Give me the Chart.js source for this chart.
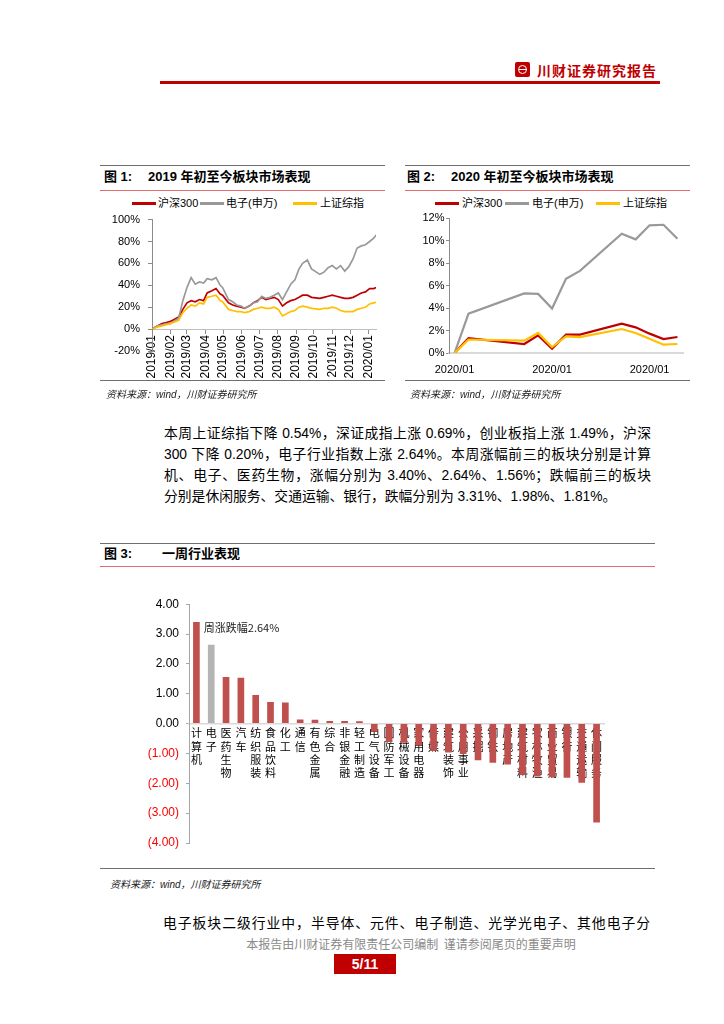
<!DOCTYPE html>
<html lang="zh-CN">
<head>
<meta charset="utf-8">
<title>川财证券研究报告</title>
<script src="https://cdn.jsdelivr.net/npm/chart.js@4.4.1/dist/chart.umd.min.js"></script>
<style>
  html, body { margin: 0; padding: 0; background: #fff; }
  #page { position: relative; width: 724px; height: 1024px; overflow: hidden;
          font-family: "Liberation Sans", "Noto Sans CJK SC", sans-serif; color: #000; }
  #page div, #page canvas { position: absolute; }
  .rule { height: 1px; background: #6f6f6f; }
  .redrule { height: 1px; background: #e36c6c; }
  .title { font-weight: bold; font-size: 13px; line-height: 16px; white-space: nowrap; }
  .lg { font-size: 11px; line-height: 14px; top: 196px; white-space: nowrap; }
  .sw { top: 202px; width: 24px; height: 2.5px; }
  .src { font-size: 10px; font-style: italic; color: #222; white-space: nowrap; }
  .para { font-size: 13.8px; line-height: 21px; text-align: justify; text-align-last: justify; }
</style>
</head>
<body>
<div id="page">
  <!-- 页眉 -->
  <div style="left:515px;top:62px;width:15px;height:15px;background:#c00000;border-radius:2px;"></div>
  <div style="left:518px;top:65px;width:7px;height:7px;border:1.5px solid #fff;border-radius:50%;"></div>
  <div style="left:519px;top:68.5px;width:8px;height:1.5px;background:#fff;"></div>
  <div style="left:537px;top:61px;font-size:14px;font-weight:bold;color:#c00000;letter-spacing:1px;line-height:18px;font-family:'Noto Sans CJK SC';">川财证券研究报告</div>
  <div style="left:160px;top:81px;width:500px;height:2.5px;background:#c00000;"></div>

  <!-- 图1 -->
  <div class="rule" style="left:100px;top:165px;width:285px;"></div>
  <div class="title" style="left:104px;top:169px;">图 1:</div>
  <div class="title" style="left:148px;top:169px;">2019 年初至今板块市场表现</div>
  <div class="redrule" style="left:100px;top:190px;width:285px;"></div>
  <div class="sw" style="left:132px;background:#c00000"></div><div class="lg" style="left:158px;">沪深300</div>
  <div class="sw" style="left:200px;background:#999999"></div><div class="lg" style="left:226px;">电子(申万)</div>
  <div class="sw" style="left:293px;background:#ffc000"></div><div class="lg" style="left:320px;">上证综指</div>
  <canvas id="chart1" width="285" height="178" style="left:100px;top:205px;width:285px;height:178px;"></canvas>
  <div class="rule" style="left:100px;top:380px;width:285px;"></div>
  <div class="src" style="left:106px;top:386px;">资料来源：wind，川财证券研究所</div>

  <!-- 图2 -->
  <div class="rule" style="left:405px;top:165px;width:285px;"></div>
  <div class="title" style="left:407px;top:169px;">图 2:</div>
  <div class="title" style="left:451px;top:169px;">2020 年初至今板块市场表现</div>
  <div class="redrule" style="left:405px;top:190px;width:285px;"></div>
  <div class="sw" style="left:435px;background:#c00000"></div><div class="lg" style="left:462px;">沪深300</div>
  <div class="sw" style="left:505px;background:#999999"></div><div class="lg" style="left:532px;">电子(申万)</div>
  <div class="sw" style="left:596px;background:#ffc000"></div><div class="lg" style="left:623px;">上证综指</div>
  <canvas id="chart2" width="290" height="172" style="left:400px;top:208px;width:290px;height:172px;"></canvas>
  <div class="rule" style="left:405px;top:380px;width:285px;"></div>
  <div class="src" style="left:410px;top:386px;">资料来源：wind，川财证券研究所</div>

  <!-- 正文 -->
  <div class="para" style="left:164px;top:423px;width:487px;">本周上证综指下降 0.54%，深证成指上涨 0.69%，创业板指上涨 1.49%，沪深</div>
  <div class="para" style="left:164px;top:444px;width:487px;">300 下降 0.20%，电子行业指数上涨 2.64%。本周涨幅前三的板块分别是计算</div>
  <div class="para" style="left:164px;top:465px;width:487px;">机、电子、医药生物，涨幅分别为 3.40%、2.64%、1.56%；跌幅前三的板块</div>
  <div class="para" style="left:164px;top:486px;width:487px;text-align:left;text-align-last:left;">分别是休闲服务、交通运输、银行，跌幅分别为 3.31%、1.98%、1.81%。</div>

  <!-- 图3 -->
  <div class="rule" style="left:100px;top:543px;width:555px;"></div>
  <div class="title" style="left:104px;top:546px;">图 3:</div>
  <div class="title" style="left:162px;top:546px;">一周行业表现</div>
  <div class="redrule" style="left:100px;top:566px;width:555px;"></div>
  <canvas id="chart3" width="555" height="270" style="left:100px;top:590px;width:555px;height:270px;"></canvas>
  <div class="rule" style="left:100px;top:868px;width:555px;"></div>
  <div class="src" style="left:110px;top:876px;">资料来源：wind，川财证券研究所</div>

  <div class="para" style="left:163px;top:913px;width:487px;">电子板块二级行业中，半导体、元件、电子制造、光学光电子、其他电子分</div>

  <!-- 页脚 -->
  <div style="left:243px;top:936px;width:336px;font-size:12px;line-height:16px;color:#8a8a8a;text-align:center;white-space:nowrap;font-family:'Noto Sans CJK SC';">本报告由川财证券有限责任公司编制&nbsp;&nbsp;谨请参阅尾页的重要声明</div>
  <div style="left:334px;top:954px;width:62px;height:20px;background:#c00000;color:#fff;font-weight:bold;font-size:14px;line-height:20px;text-align:center;">5/11</div>
</div>

<script>
// ===== 数据 =====
// 图1：2019年初至今（周度取点，累计涨跌幅 %）
const dates2019 = ['2019-01-02','2019-01-04','2019-01-11','2019-01-18','2019-01-25','2019-02-01','2019-02-15','2019-02-22',
  '2019-03-01','2019-03-08','2019-03-15','2019-03-22','2019-03-29','2019-04-04','2019-04-12','2019-04-19','2019-04-26','2019-04-30',
  '2019-05-10','2019-05-17','2019-05-24','2019-05-31','2019-06-06','2019-06-14','2019-06-21','2019-06-28',
  '2019-07-05','2019-07-12','2019-07-19','2019-07-26','2019-08-02','2019-08-09','2019-08-16','2019-08-23','2019-08-30',
  '2019-09-06','2019-09-12','2019-09-20','2019-09-27','2019-10-11','2019-10-18','2019-10-25',
  '2019-11-01','2019-11-08','2019-11-15','2019-11-22','2019-11-29','2019-12-06','2019-12-13','2019-12-20','2019-12-27',
  '2020-01-03','2020-01-10','2020-01-14'];
const hs300_2019 = [0, 1, 3, 5, 6, 7, 11, 18,
  24, 26, 25, 27, 26, 33, 35, 37, 32, 31,
  24, 22, 21, 20, 19, 21, 24, 26,
  29, 27, 28, 29, 27, 21, 24, 26, 27,
  29, 31, 31, 29, 28, 29, 30,
  31, 30, 29, 28, 28, 29, 31, 33, 34,
  37, 37, 38];
const dianzi_2019 = [0, 1, 3, 4, 5, 5, 10, 26,
  38, 47, 41, 43, 42, 46, 45, 47, 40, 38,
  27, 25, 22, 21, 19, 21, 24, 25,
  30, 28, 29, 31, 33, 27, 34, 41, 45,
  55, 60, 63, 55, 50, 52, 56,
  58, 55, 58, 53, 57, 64, 74, 76, 77,
  80, 83, 86];
const szzz_2019 = [0, 0.5, 2, 3, 4, 5, 8, 15,
  19, 22, 21, 24, 23, 29, 30, 31, 26, 25,
  18, 17, 16, 16, 15, 16, 18, 19,
  20, 19, 19, 20, 18, 12, 14, 16, 17,
  20, 21, 20, 19, 18, 19, 19,
  20, 19, 17, 16, 16, 16, 18, 19, 20,
  23, 24, 24.5];
const monthLabels2019 = ['2019/01','2019/02','2019/03','2019/04','2019/05','2019/06','2019/07',
  '2019/08','2019/09','2019/10','2019/11','2019/12','2020/01'];

// 图2：2020年初至今（日度，累计涨跌幅 %）
const dates2020 = ['2020-01-01','2020-01-02','2020-01-06','2020-01-07','2020-01-08','2020-01-09',
  '2020-01-10','2020-01-13','2020-01-14','2020-01-15','2020-01-16','2020-01-17'];
const hs300_2020  = [0, 1.33, 0.80, 1.57, 0.39, 1.63, 1.63, 2.60, 2.28, 1.72, 1.24, 1.42];
const dianzi_2020 = [0, 3.50, 5.30, 5.25, 3.95, 6.60, 7.30, 10.60, 10.10, 11.35, 11.40, 10.15];
const szzz_2020   = [0, 1.20, 1.10, 1.78, 0.53, 1.48, 1.42, 2.13, 1.78, 1.27, 0.74, 0.80];
const tickDates2020 = ['2020-01-01','2020-01-08','2020-01-15'];

// 图3：一周行业表现（%）
const industries = ['计算机','电子','医药生物','汽车','纺织服装','食品饮料','化工','通信','有色金属','综合',
  '非银金融','轻工制造','电气设备','国防军工','机械设备','家用电器','传媒','建筑装饰','公用事业','采掘',
  '钢铁','房地产','建筑材料','农林牧渔','商业贸易','银行','交通运输','休闲服务'];
const weekChange = [3.40, 2.64, 1.56, 1.54, 0.96, 0.72, 0.71, 0.14, 0.13, 0.09,
  0.09, 0.08, -0.27, -0.62, -0.64, -0.73, -0.92, -0.97, -1.02, -1.23,
  -1.31, -1.37, -1.72, -1.77, -1.80, -1.81, -1.98, -3.31];

// ===== 样式 =====
const RED = '#c00000', GRAY = '#999999', YELLOW = '#ffc000';
const AXIS = '#8c8c8c';
const NUM_FONT = '"Liberation Sans", "Noto Sans CJK SC", sans-serif';
const CJK_FONT = '"Noto Sans CJK SC", sans-serif';
Chart.defaults.font.family = NUM_FONT;
Chart.defaults.color = '#000';

// ===== 工具 =====
const DAY = 86400000;
function dayIndex(dateStr, baseStr) {
  return Math.round((Date.parse(dateStr) - Date.parse(baseStr)) / DAY);
}
function toPoints(dates, values, base) {
  return dates.map((d, i) => ({ x: dayIndex(d, base), y: values[i] }));
}
function lineSet(label, data, color, order, width) {
  return { label, data, borderColor: color, backgroundColor: color, borderWidth: width,
           pointRadius: 0, tension: 0, order };
}

// ===== 图1 =====
const base19 = '2019-01-01';
new Chart(document.getElementById('chart1'), {
  type: 'line',
  data: {
    datasets: [
      lineSet('沪深300', toPoints(dates2019, hs300_2019, base19), RED, 2, 1.7),
      lineSet('电子(申万)', toPoints(dates2019, dianzi_2019, base19), GRAY, 1, 1.7),
      lineSet('上证综指', toPoints(dates2019, szzz_2019, base19), YELLOW, 0, 1.7)
    ]
  },
  options: {
    responsive: false,
    animation: false,
    layout: { padding: { top: 10, right: 5, bottom: 32, left: 0 } },
    plugins: { legend: { display: false }, tooltip: { enabled: false } },
    scales: {
      x: {
        type: 'linear',
        position: { y: 0 },
        z: 1,
        min: 0,
        max: dayIndex(dates2019[dates2019.length - 1], base19),
        afterBuildTicks: s => {
          s.ticks = monthLabels2019.map(m => ({ value: dayIndex(m.replace('/', '-') + '-01', base19) }));
        },
        afterFit: s => { s.height = 0; },
        ticks: { autoSkip: false, minRotation: 90, maxRotation: 90, padding: 2,
                 font: { size: 12 }, callback: (v, i) => monthLabels2019[i] },
        grid: { drawOnChartArea: false, tickLength: 4, color: AXIS },
        border: { color: '#bfbfbf' }
      },
      y: {
        min: -20, max: 100,
        afterFit: s => { s.width = 52; },
        ticks: { stepSize: 20, padding: 8, font: { size: 11 }, callback: v => v + '%' },
        grid: { drawOnChartArea: false, tickLength: 4, color: AXIS },
        border: { color: AXIS }
      }
    }
  }
});

// ===== 图2 =====
const base20 = '2020-01-01';
new Chart(document.getElementById('chart2'), {
  type: 'line',
  data: {
    datasets: [
      lineSet('沪深300', toPoints(dates2020, hs300_2020, base20), RED, 2, 2.2),
      lineSet('电子(申万)', toPoints(dates2020, dianzi_2020, base20), GRAY, 1, 2.2),
      lineSet('上证综指', toPoints(dates2020, szzz_2020, base20), YELLOW, 0, 2.2)
    ]
  },
  options: {
    responsive: false,
    animation: false,
    layout: { padding: { top: 10, right: 7, bottom: 0, left: 0 } },
    plugins: { legend: { display: false }, tooltip: { enabled: false } },
    scales: {
      x: {
        type: 'linear',
        min: -0.4, max: 16.4,
        afterBuildTicks: s => { s.ticks = tickDates2020.map(d => ({ value: dayIndex(d, base20) })); },
        afterFit: s => { s.height = 27; },
        ticks: { autoSkip: false, maxRotation: 0, padding: 10, font: { size: 11 },
                 callback: (v, i) => tickDates2020[i].slice(0, 7).replace('-', '/') },
        grid: { drawOnChartArea: false, drawTicks: false },
        border: { color: '#d9d9d9', width: 2 }
      },
      y: {
        min: 0, max: 12,
        afterFit: s => { s.width = 49; },
        ticks: { stepSize: 2, padding: 1.5, font: { size: 11 }, callback: v => v + '%' },
        grid: { drawOnChartArea: false, tickLength: 3, color: AXIS },
        border: { color: AXIS }
      }
    }
  }
});

// ===== 图3 =====
const noteLabel = {
  id: 'noteLabel',
  afterDatasetsDraw(chart) {
    const { ctx, scales: { x, y } } = chart;
    const i = industries.indexOf('电子');
    const half = (x.getPixelForValue(1) - x.getPixelForValue(0)) / 2;
    const px = x.getPixelForValue(i) - half;
    const py = y.getPixelForValue(weekChange[i]) - 17;
    ctx.save();
    ctx.font = '11px ' + CJK_FONT;
    ctx.fillStyle = '#222';
    ctx.textBaseline = 'middle';
    ctx.fillText('周涨跌幅' + weekChange[i].toFixed(2) + '%', px, py);
    ctx.restore();
  }
};

new Chart(document.getElementById('chart3'), {
  type: 'bar',
  data: {
    labels: industries,
    datasets: [{
      data: weekChange,
      backgroundColor: industries.map(n => n === '电子' ? '#b4b4b4' : '#c0504d'),
      barPercentage: 0.9,
      categoryPercentage: 0.5
    }]
  },
  options: {
    responsive: false,
    animation: false,
    layout: { padding: { top: 12, right: 51, bottom: 17, left: 0 } },
    plugins: { legend: { display: false }, tooltip: { enabled: false } },
    scales: {
      x: {
        position: { y: 0 },
        z: 1,
        afterFit: s => { s.height = 0; },
        ticks: {
          autoSkip: false, minRotation: 0, maxRotation: 0, padding: 3,
          font: { family: CJK_FONT, size: 11, lineHeight: 1.21 },
          callback: function (v) { return this.getLabelForValue(v).split(''); }
        },
        grid: { drawOnChartArea: false, drawTicks: false },
        border: { color: '#d9d9d9', width: 1.5 }
      },
      y: {
        min: -4, max: 4,
        afterFit: s => { s.width = 89; },
        ticks: {
          stepSize: 1, padding: 7, font: { size: 12 },
          color: c => c.tick.value < 0 ? '#ff0000' : '#000',
          callback: v => v < 0 ? '(' + (-v).toFixed(2) + ')' : v.toFixed(2)
        },
        grid: { drawOnChartArea: false, tickLength: 3, color: '#a6a6a6' },
        border: { color: '#a6a6a6' }
      }
    }
  },
  plugins: [noteLabel]
});
</script>
</body>
</html>
